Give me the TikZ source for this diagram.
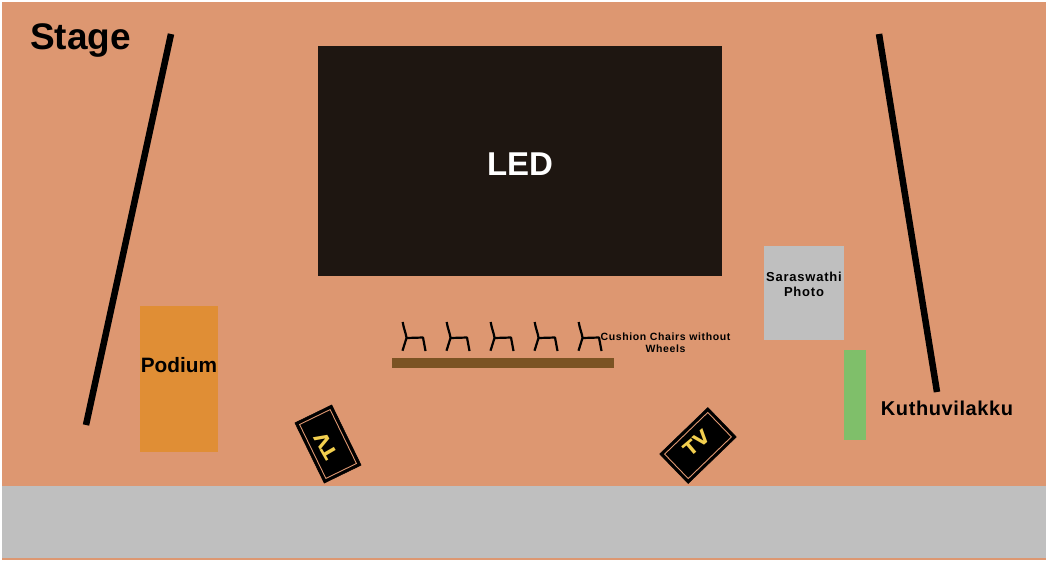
\documentclass[tikz,border=0pt]{standalone}
\usepackage{fontspec}
\setmainfont{Liberation Sans}
\newfontfamily\tvfont{DejaVu Sans}
\definecolor{stagefloor}{HTML}{DD9771}
\definecolor{ledblack}{HTML}{1E1611}
\definecolor{aislegray}{HTML}{BFBFBF}
\definecolor{podiumorange}{HTML}{E08E35}
\definecolor{lampgreen}{HTML}{7FBF6A}
\definecolor{tablebrown}{HTML}{7B5323}
\definecolor{tvyellow}{HTML}{F2CF4F}
\tikzset{
  block/.style={inner sep=0pt,font=\bfseries},
  wing/.style={line width=6.5pt,black},
  chairline/.style={line width=2.2pt,black,line join=round},
  tvbox/.style={fill=black,draw=black,line width=0.5pt},
  tvframe/.style={draw=stagefloor,line width=0.9pt},
  tvlabel/.style={inner sep=0pt,text=tvyellow,font=\tvfont\bfseries\fontsize{19}{22}\selectfont},
}
\begin{document}
\begin{tikzpicture}[x=1pt,y=-1pt]
  \useasboundingbox (0,0) rectangle (1048,560);
  \fill[white] (0,0) rectangle (1048,560);
  \fill[stagefloor] (2,2) rectangle (1046,560);
  \fill[aislegray] (2,486) rectangle (1046,558);
  % screen
  \fill[ledblack] (318,46) rectangle (722,276);
  \node[block,text=white,font=\bfseries\fontsize{33}{38}\selectfont] (led) at (520,164) {LED};
  % side wings
  \draw[wing] (171,34) -- (86,425);
  \draw[wing] (879,34) -- (937,392);
  \node[block,font=\bfseries\fontsize{37}{42}\selectfont] (stage) at (80.5,40) {Stage};
  % podium
  \fill[podiumorange] (140,306) rectangle (218,452);
  \node[block,font=\bfseries\fontsize{20.8}{24}\selectfont] (podium) at (179,365) {Podium};
  % photo
  \fill[aislegray] (764,246) rectangle (844,340);
  \node[block,align=center,font=\bfseries\fontsize{13}{15}\selectfont\addfontfeature{LetterSpace=6}] (photo) at (804,284.5) {Saraswathi\\Photo};
  % lamp
  \fill[lampgreen] (844,350) rectangle (866,440);
  \node[block,font=\bfseries\fontsize{20}{24}\selectfont\addfontfeature{LetterSpace=3}] (lamp) at (947,408) {Kuthuvilakku};
  % table and chairs
  \fill[tablebrown] (392,358) rectangle (614,368);
  \foreach \cx in {0,44,88,132,176}
    \draw[chairline,xshift=\cx pt] (402.7,322) .. controls (404,330) and (406,333) .. (406.5,338) -- (402.5,350.7)
      (406.5,338) -- (423,337.5) -- (425.5,351);
  \node[block,align=center,font=\bfseries\fontsize{10.5}{12.5}\selectfont\addfontfeature{LetterSpace=6}] (chairs) at (665.5,342.5) {Cushion Chairs without\\Wheels};
  % tvs
  \foreach \tx/\ty/\ta in {328/444/116,698/445.5/44}{
    \draw[tvbox,shift={(\tx,\ty)},rotate=\ta] (-33.5,-20.5) rectangle (33.5,20.5);
    \draw[tvframe,shift={(\tx,\ty)},rotate=\ta] (-30,-17) rectangle (30,17);
  }
  \node[tvlabel,rotate=120] (tvleft) at (326,446) {TV};
  \node[tvlabel,rotate=40] (tvright) at (697,443) {TV};
\end{tikzpicture}
\end{document}
